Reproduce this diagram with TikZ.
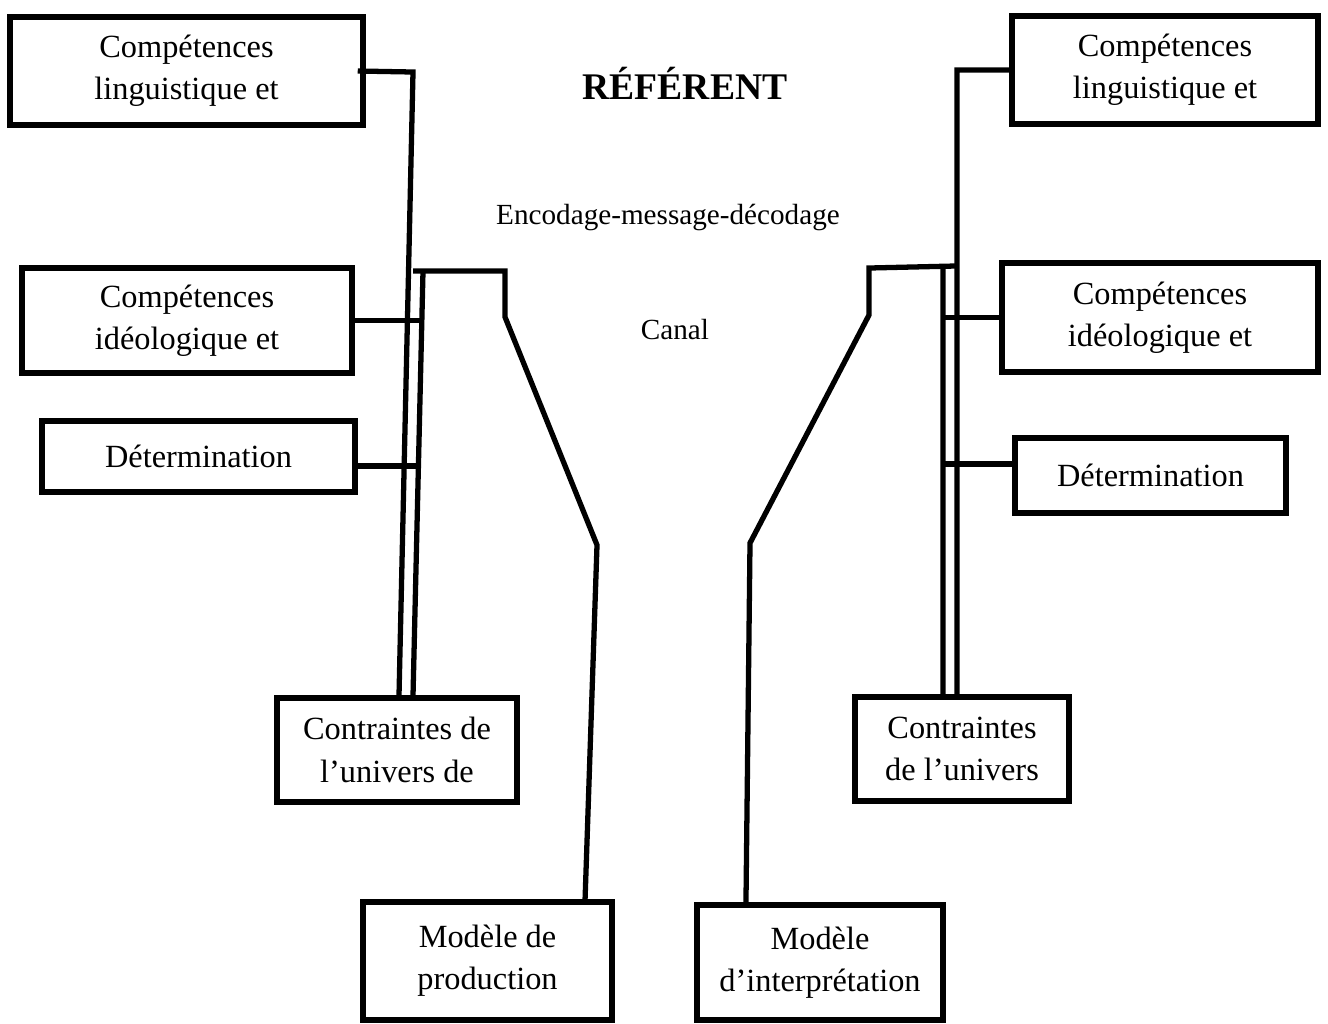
\documentclass[tikz,border=0pt]{standalone}
\usepackage{fontspec}
\setmainfont{Liberation Serif}
\usetikzlibrary{positioning}

\begin{document}
\begin{tikzpicture}[
    x=0.01cm,
    y=-0.01cm,
    box/.style={draw, line width=1.5pt, align=center, inner sep=0pt,
        font=\fontsize{9.2}{12}\selectfont},
    link/.style={line width=1.5pt},
    label/.style={font=\fontsize{8.3}{10}\selectfont},
]
    \useasboundingbox (0,0) rectangle (1328,1023);

    % left side: production
    \node[box, minimum width=3.53cm, minimum height=1.08cm] (L1) at (186.5,71)   {Compétences\\linguistique et};
    \node[box, minimum width=3.30cm, minimum height=1.05cm] (L2) at (187,320.5)  {Compétences\\idéologique et};
    \node[box, minimum width=3.13cm, minimum height=0.71cm] (L3) at (198.5,456.5) {Détermination};
    \node[box, minimum width=2.40cm, minimum height=1.04cm] (CL) at (397,750)    {Contraintes de\\l’univers de};
    \node[box, minimum width=2.49cm, minimum height=1.18cm] (ML) at (487.5,961)  {Modèle de\\production};

    % right side: interpretation
    \node[box, minimum width=3.06cm, minimum height=1.08cm] (R1) at (1165,70)     {Compétences\\linguistique et};
    \node[box, minimum width=3.16cm, minimum height=1.09cm] (R2) at (1160,317.5)  {Compétences\\idéologique et};
    \node[box, minimum width=2.71cm, minimum height=0.75cm] (R3) at (1150.5,475.5) {Détermination};
    \node[box, minimum width=2.14cm, minimum height=1.04cm] (CR) at (962,749)     {Contraintes\\de l’univers};
    \node[box, minimum width=2.46cm, minimum height=1.15cm] (MR) at (820,962.5)   {Modèle\\d’interprétation};

    % middle texts
    \node[font=\fontsize{10.7}{13}\selectfont\bfseries] (ref) at (685,83) {RÉFÉRENT};
    \node[label] (enc)   at (668,217) {Encodage-message-décodage};
    \node[label] (canal) at (675,329) {Canal};

    % bends
    \coordinate (a1) at (413,72);
    \coordinate (a2) at (413,271);
    \coordinate (a3) at (505,271);
    \coordinate (a4) at (505,317);
    \coordinate (a5) at (597,545);
    \coordinate (a6) at (423,271);
    \coordinate (a8) at (418,466);

    \coordinate (b1) at (957,70);
    \coordinate (b2) at (955,266);
    \coordinate (b3) at (869,268);
    \coordinate (b4) at (869,315);
    \coordinate (b5) at (750,543);
    \coordinate (b6) at (943,269);
    \coordinate (b7) at (943,464);

    % left connectors
    \draw[link] ([xshift=-0.08cm]L1.east) -- (a1) -- ([xshift=0.02cm]CL.north);
    \draw[link] (a2) -- (a3) -- (a4) -- (a5) -- ([xshift=0.975cm]ML.north);
    \draw[link] (a6) -- ([xshift=0.16cm]CL.north);
    \draw[link] (L2.east) -- (L2.east -| a6);
    \draw[link] (a8 -| L3.east) -- (a8);

    % right connectors
    \draw[link] (R1.west) -- (b1) -- ([xshift=-0.05cm]CR.north);
    \draw[link] (b2) -- (b3) -- (b4) -- (b5) -- ([xshift=-0.74cm]MR.north);
    \draw[link] (b6) -- ([xshift=-0.19cm]CR.north);
    \draw[link] (R2.west) -- (R2.west -| b6);
    \draw[link] (b7) -- (b7 -| R3.west);
\end{tikzpicture}
\end{document}
